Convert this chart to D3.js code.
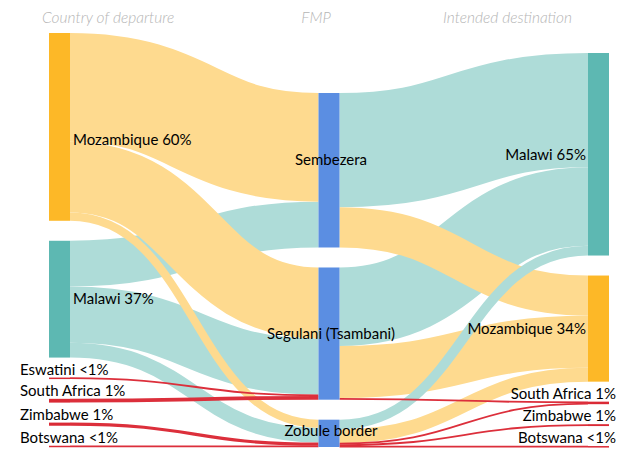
<!DOCTYPE html>
<html>
<head>
<meta charset="utf-8">
<script src="https://cdn.jsdelivr.net/npm/d3@7"></script>
<style>
  html, body { margin: 0; padding: 0; background: #fff; }
  svg { display: block; }
  text { font-family: "Gill Sans", "Lato", "Noto Sans", sans-serif; }
</style>
</head>
<body>
<svg id="chart" width="618" height="449"></svg>
<script>
// ---- data -------------------------------------------------------------
const columnTitles = ["Country of departure", "FMP", "Intended destination"];

const departures   = ["Mozambique", "Malawi", "Eswatini", "South Africa", "Zimbabwe", "Botswana"];
const fmps         = ["Sembezera", "Segulani (Tsambani)", "Zobule border"];
const destinations = ["Malawi", "Mozambique", "South Africa", "Zimbabwe", "Botswana"];

// share of migrants (%) from country of departure to FMP, listed in paint order
const departureFlows = [
  ["Malawi", "Sembezera", 14.6],
  ["Malawi", "Segulani (Tsambani)", 17.9],
  ["Malawi", "Zobule border", 4.7],
  ["Mozambique", "Sembezera", 34.6],
  ["Mozambique", "Segulani (Tsambani)", 22.6],
  ["Mozambique", "Zobule border", 2.6],
  ["Eswatini", "Segulani (Tsambani)", 0.4],
  ["South Africa", "Segulani (Tsambani)", 1.2],
  ["Zimbabwe", "Zobule border", 1.0],
  ["Botswana", "Zobule border", 0.4]
];

// share of migrants (%) from FMP to intended destination, listed in paint order
const destinationFlows = [
  ["Sembezera", "Malawi", 36.4],
  ["Segulani (Tsambani)", "Malawi", 25.0],
  ["Segulani (Tsambani)", "Mozambique", 16.6],
  ["Sembezera", "Mozambique", 12.8],
  ["Zobule border", "Mozambique", 4.4],
  ["Zobule border", "Malawi", 3.1],
  ["Segulani (Tsambani)", "South Africa", 0.5],
  ["Zobule border", "South Africa", 0.3],
  ["Zobule border", "Zimbabwe", 0.6],
  ["Zobule border", "Botswana", 0.3]
];

// ---- appearance -------------------------------------------------------
const nodeWidth = 21, nodePadding = 20;
const yTop = 33, yBottom = 447;

const countryNodeColor = { "Mozambique": "#FDB827", "Malawi": "#5DB8B2" };
const countryLinkColor = { "Mozambique": "#FEDA8F", "Malawi": "#AEDCD8" };
const otherNodeColor = "#DA2A35", otherLinkColor = "#DC2F3B";
const fmpColor = "#5B8EE2";

// ---- layout -----------------------------------------------------------
const columns = [departures, fmps, destinations].map((names, c) =>
  names.map(name => ({ name, column: c, id: c + ":" + name, sourceLinks: [], targetLinks: [] })));
const byId = new Map(columns.flat().map(n => [n.id, n]));

const links = [];
departureFlows.forEach(([s, t, v]) => links.push({ source: byId.get("0:" + s), target: byId.get("1:" + t), value: v, country: s }));
destinationFlows.forEach(([s, t, v]) => links.push({ source: byId.get("1:" + s), target: byId.get("2:" + t), value: v, country: t }));
links.forEach(l => { l.source.sourceLinks.push(l); l.target.targetLinks.push(l); });

columns.flat().forEach(n => {
  n.value = Math.max(d3.sum(n.sourceLinks, l => l.value), d3.sum(n.targetLinks, l => l.value));
});

const ky = d3.min(columns, col =>
  (yBottom - yTop - (col.length - 1) * nodePadding) / d3.sum(col, n => n.value));
const size = d3.scaleLinear().domain([0, 100]).range([0, 100 * ky]);
const xCol = d3.scalePoint().domain([0, 1, 2]).range([49, 588]);

// stack each column, bottom-aligned
columns.forEach(col => {
  const total = d3.sum(col, n => size(n.value)) + (col.length - 1) * nodePadding;
  let y = yBottom - total;
  col.forEach(n => {
    n.x0 = xCol(n.column); n.x1 = n.x0 + nodeWidth;
    n.y0 = y; n.y1 = y + size(n.value);
    y = n.y1 + nodePadding;
  });
});

columns.flat().forEach(n => {
  let y = n.y0;
  n.sourceLinks.slice().sort((a, b) => a.target.y0 - b.target.y0).forEach(l => {
    l.width = size(l.value); l.y0 = y + l.width / 2; y += l.width;
  });
});
columns.flat().forEach(n => {
  let y = n.y0;
  n.targetLinks.slice().sort((a, b) => a.source.y0 - b.source.y0).forEach(l => {
    l.y1 = y + l.width / 2; y += l.width;
  });
});

// ---- drawing ----------------------------------------------------------
const svg = d3.select("#chart");

svg.append("g").selectAll("path")
  .data(links)
  .join("path")
  .attr("d", d3.linkHorizontal()
    .source(d => [d.source.x1, d.y0])
    .target(d => [d.target.x0, d.y1]))
  .attr("fill", "none")
  .attr("stroke", d => countryLinkColor[d.country] || otherLinkColor)
  .attr("stroke-width", d => Math.max(d.width, 1.8));

svg.append("g").selectAll("rect")
  .data(columns.flat())
  .join("rect")
  .attr("x", d => d.x0)
  .attr("y", d => d.y0)
  .attr("width", d => d.x1 - d.x0)
  .attr("height", d => Math.max(d.y1 - d.y0, 1.5))
  .attr("fill", d => d.column === 1 ? fmpColor : (countryNodeColor[d.name] || otherNodeColor));

const share = v => Math.round(v) < 1 ? "<1%" : Math.round(v) + "%";
const labelShift = { "0:Mozambique": 13, "1:Sembezera": -10, "1:Zobule border": -3 };

svg.append("g")
  .attr("font-size", 15)
  .attr("fill", "#000")
  .selectAll("text")
  .data(columns.flat())
  .join("text")
  .attr("x", d => {
    if (d.column === 1) return (d.x0 + d.x1) / 2 + 2;
    const big = d.value >= 5;
    if (d.column === 0) return big ? d.x1 + 3 : 20;
    return big ? d.x0 - 2 : 616;
  })
  .attr("y", d => {
    if (d.column === 1 || d.value >= 5) return (d.y0 + d.y1) / 2 + (labelShift[d.id] || 0);
    return d.y0 - 3;
  })
  .attr("dy", d => (d.column === 1 || d.value >= 5) ? "0.35em" : 0)
  .attr("text-anchor", d => d.column === 1 ? "middle" : d.column === 0 ? "start" : "end")
  .text(d => d.column === 1 ? d.name : d.name + " " + share(d.value));

svg.append("g")
  .attr("font-size", 15.5)
  .attr("font-style", "italic")
  .attr("font-weight", 300)
  .attr("fill", "#b5b5b5")
  .selectAll("text")
  .data(columnTitles)
  .join("text")
  .attr("x", (d, i) => [42, 316, 443][i])
  .attr("y", 23)
  .attr("text-anchor", (d, i) => ["start", "middle", "start"][i])
  .text(d => d);
</script>
</body>
</html>
